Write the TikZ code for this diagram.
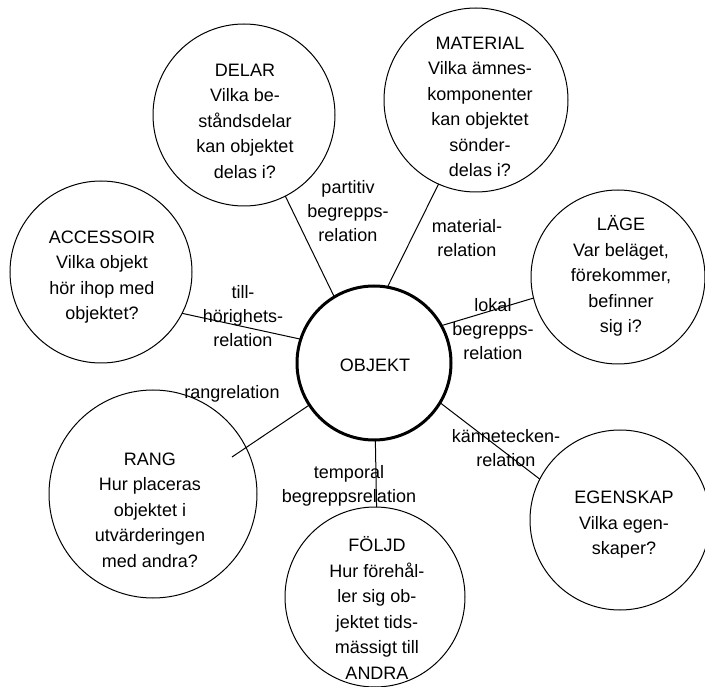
\documentclass[tikz,border=0pt]{standalone}
\usepackage{fontspec}
\setmainfont{Liberation Sans}
\begin{document}
\begin{tikzpicture}[x=1pt,y=-1pt,
  bubble/.style={draw, circle, line width=1pt, inner sep=0pt, outer sep=0pt},
  core/.style={draw, circle, line width=3pt, inner sep=0pt, outer sep=0pt},
  txt/.style={align=center, font=\fontsize{18}{25.5}\selectfont, inner sep=0pt},
  rel/.style={align=center, font=\fontsize{18}{24}\selectfont, inner sep=0pt},
  link/.style={line width=1pt}]
\useasboundingbox (0,0) rectangle (705,687);

% central concept
\node[core, minimum size=154pt] (obj) at (374,363) {};
\node[txt] (obj-t) at (375,365) {OBJEKT};

% surrounding concept circles
\node[bubble, minimum size=182pt] (delar) at (244,115) {};
\node[bubble, minimum size=184pt] (mat)   at (476,100) {};
\node[bubble, minimum size=174pt] (lage)  at (618,277) {};
\node[bubble, minimum size=182pt] (acc)   at (101,272) {};
\node[bubble, minimum size=208pt] (rang)  at (153,494) {};
\node[bubble, minimum size=180pt] (foljd) at (375,597) {};
\node[bubble, minimum size=180pt] (egen)  at (620,520) {};

% texts inside the circles
\node[txt] (delar-t) at (245,121) {DELAR\\Vilka be-\\ståndsdelar\\kan objektet\\delas i?};
\node[txt] (mat-t)   at (480,107) {MATERIAL\\Vilka ämnes-\\komponenter\\kan objektet\\sönder-\\delas i?};
\node[txt] (lage-t)  at (621,276) {LÄGE\\Var beläget,\\förekommer,\\befinner\\sig i?};
\node[txt] (acc-t)   at (102,277) {ACCESSOIR\\Vilka objekt\\hör ihop med\\objektet?};
\node[txt] (rang-t)  at (150,510) {RANG\\Hur placeras\\objektet i\\utvärderingen\\med andra?};
\node[txt] (foljd-t) at (377,608) {FÖLJD\\Hur förehål-\\ler sig ob-\\jektet tids-\\mässigt till\\ANDRA};
\node[txt] (egen-t)  at (624,525) {EGENSKAP\\Vilka egen-\\skaper?};

% connectors
\coordinate (rang-in) at (232,457);
\draw[link] (obj.121) -- (delar.-63);
\draw[link] (obj.80) -- (mat.246);
\draw[link] (obj.29.5) -- (lage.194);
\draw[link] (obj.162) -- (acc.-27);
\draw[link] (obj.213.7) -- (rang-in);
\draw[link] (obj.-89) -- (foljd.89);
\draw[link] (obj.-31.7) -- (egen.153);

% relation labels
\node[rel] (l-delar) at (348,211) {partitiv\\begrepps-\\relation};
\node[rel] (l-mat)   at (467,238) {material-\\relation};
\node[rel] (l-lage)  at (493,329) {lokal\\begrepps-\\relation};
\node[rel] (l-acc)   at (243,316) {till-\\hörighets-\\relation};
\node[rel] (l-rang)  at (232,394) {rangrelation};
\node[rel] (l-foljd) at (349,486) {temporal\\begreppsrelation};
\node[rel] (l-egen)  at (506,448) {kännetecken-\\relation};
\end{tikzpicture}
\end{document}
